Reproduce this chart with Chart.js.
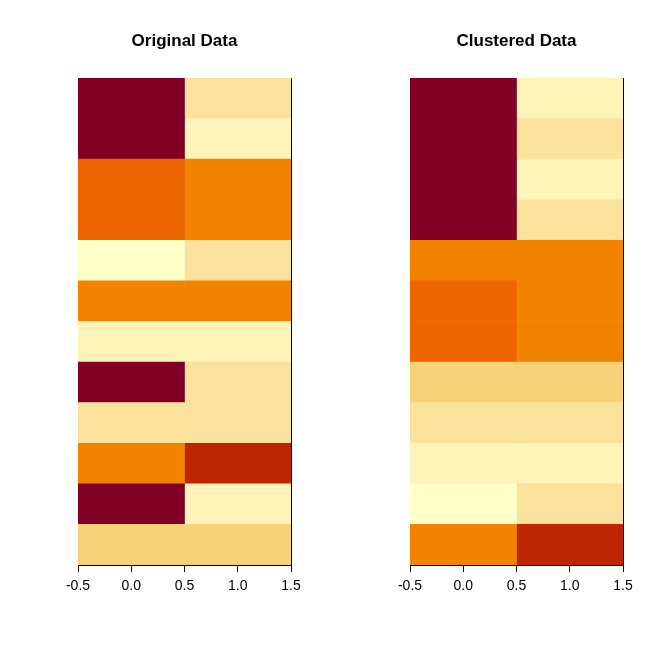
<!DOCTYPE html>
<html>
<head>
<meta charset="utf-8">
<script src="https://cdn.jsdelivr.net/npm/chart.js@4"></script>
<style>
  body { margin: 0; background: #fff; }
  .panel { position: absolute; top: 0; width: 332px; height: 664px; }
</style>
</head>
<body>
<div class="panel" style="left:0"><canvas id="left"></canvas></div>
<div class="panel" style="left:332px"><canvas id="right"></canvas></div>
<script>
// colour levels, 0 = darkest
const palette = ["#800026", "#BD2600", "#EC6500", "#F28300", "#F7D077", "#FAE29C", "#FEF3B8", "#FFFFC8"];

const rows = ["1", "2", "3", "4", "5", "6", "7", "8", "9", "10", "11", "12"];
const xTicks = [-0.5, 0, 0.5, 1, 1.5];

// level per row, top to bottom
const origCol0 = [0, 0, 2, 2, 7, 3, 6, 0, 5, 3, 0, 4];
const origCol1 = [5, 6, 3, 3, 5, 3, 6, 5, 5, 1, 6, 4];
const clustCol0 = [0, 0, 0, 0, 3, 2, 2, 4, 5, 6, 7, 3];
const clustCol1 = [6, 5, 6, 5, 3, 3, 3, 4, 5, 6, 5, 1];

function makePanel(id, title, col0, col1) {
    const frame = {
        id: "frame",
        afterDraw(chart) {
            const ctx = chart.ctx;
            const a = chart.chartArea;
            ctx.save();
            ctx.strokeStyle = "#000";
            ctx.lineWidth = 1;
            ctx.beginPath();
            ctx.moveTo(Math.round(a.right) + 0.5, a.top);
            ctx.lineTo(Math.round(a.right) + 0.5, a.bottom);
            ctx.stroke();
            ctx.fillStyle = "#000";
            ctx.font = "bold 17px Arial, 'Liberation Sans'";
            ctx.textAlign = "center";
            ctx.textBaseline = "middle";
            ctx.fillText(title, (a.left + a.right) / 2, 41);
            ctx.restore();
        }
    };

    new Chart(document.getElementById(id), {
        type: "bar",
        data: {
            labels: rows,
            datasets: [
                {
                    data: col0.map(() => [-0.5, 0.5]),
                    backgroundColor: col0.map(v => palette[v]),
                    barPercentage: 1,
                    categoryPercentage: 1,
                    borderWidth: 0
                },
                {
                    data: col1.map(() => [0.5, 1.5]),
                    backgroundColor: col1.map(v => palette[v]),
                    barPercentage: 1,
                    categoryPercentage: 1,
                    borderWidth: 0
                }
            ]
        },
        options: {
            indexAxis: "y",
            responsive: true,
            maintainAspectRatio: false,
            animation: false,
            layout: { padding: { left: 78, right: 41, top: 78, bottom: 59 } },
            plugins: { legend: { display: false }, tooltip: { enabled: false } },
            scales: {
                y: { display: false, stacked: true },
                x: {
                    min: -0.5,
                    max: 1.5,
                    afterBuildTicks: scale => { scale.ticks = xTicks.map(v => ({ value: v })); },
                    afterFit: scale => { scale.height = 40; },
                    grid: { drawOnChartArea: false, tickLength: 7, color: "#000" },
                    border: { color: "#000" },
                    ticks: {
                        color: "#000",
                        padding: 6,
                        font: { size: 14, family: "Arial, 'Liberation Sans'" },
                        callback: v => Number(v).toFixed(1)
                    }
                }
            }
        },
        plugins: [frame]
    });
}

makePanel("left", "Original Data", origCol0, origCol1);
makePanel("right", "Clustered Data", clustCol0, clustCol1);
</script>
</body>
</html>
